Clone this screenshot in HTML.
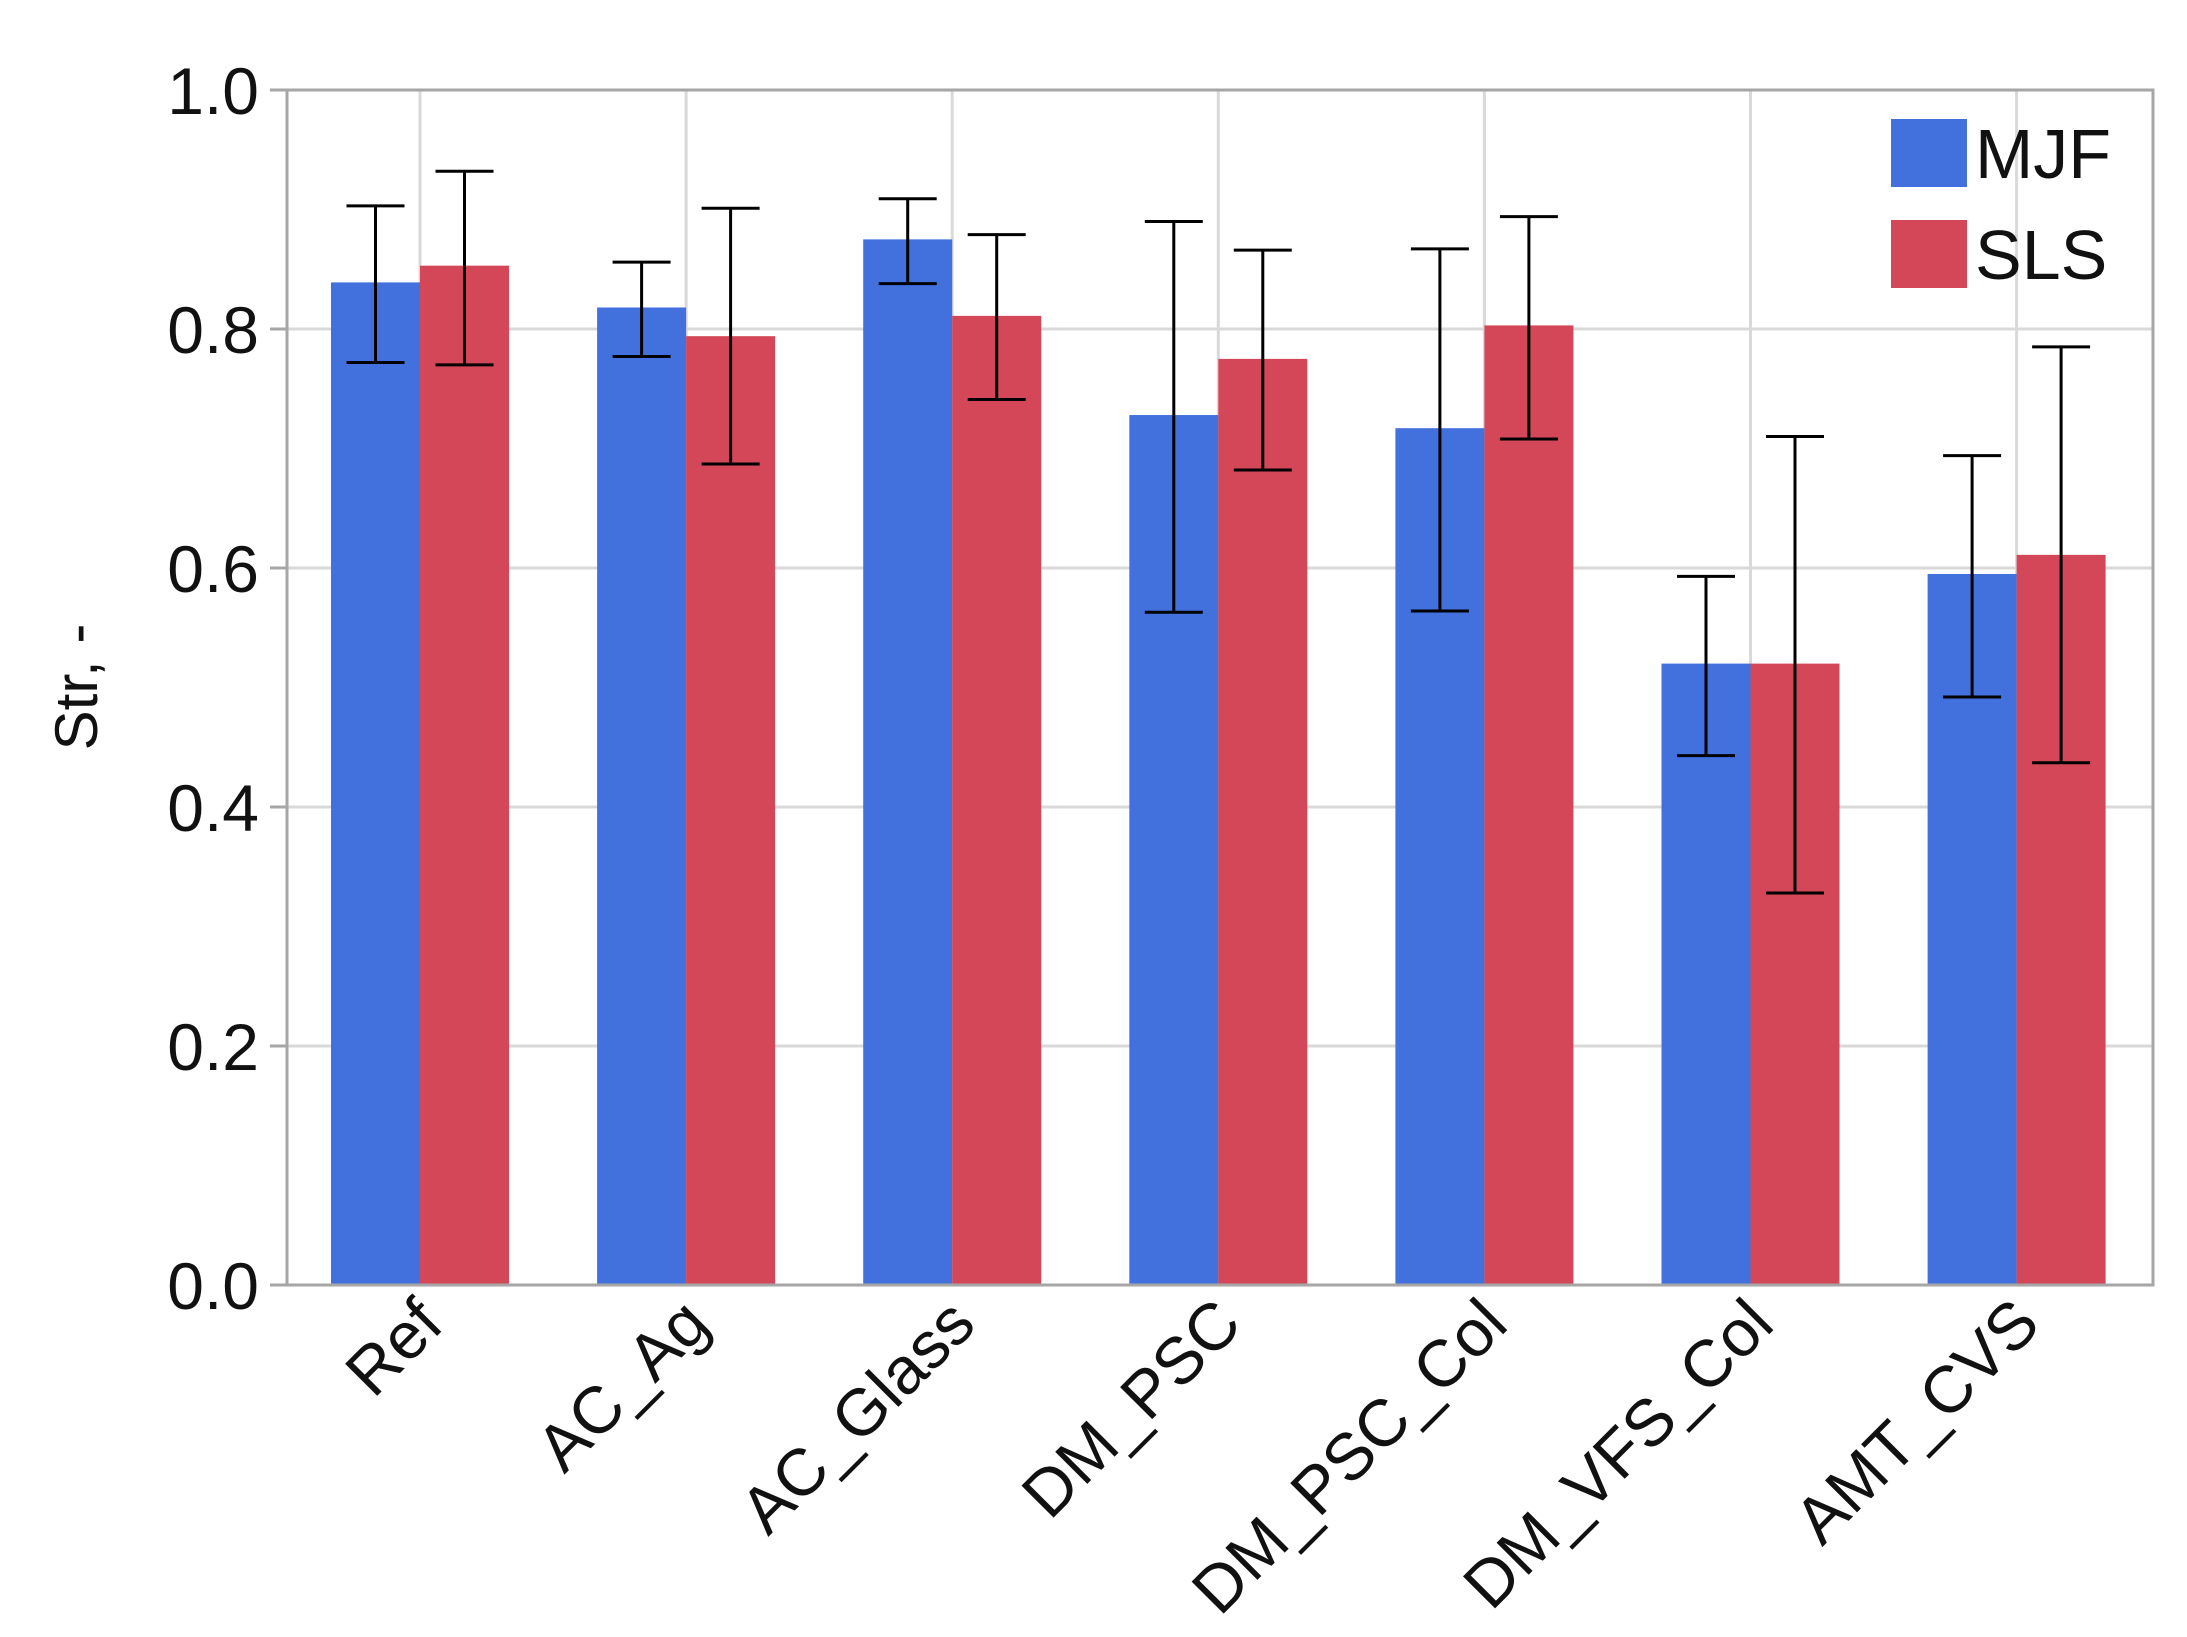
<!DOCTYPE html>
<html><head><meta charset="utf-8"><style>
html,body{margin:0;padding:0;background:#fff;}
svg{display:block;font-family:"Liberation Sans","DejaVu Sans",sans-serif;}
</style></head><body>
<svg id="chart" width="2187" height="1637" viewBox="0 0 2187 1637" xmlns="http://www.w3.org/2000/svg"></svg>
<script>
const categories=["Ref","AC_Ag","AC_Glass","DM_PSC","DM_PSC_Col","DM_VFS_Col","AMT_CVS"];
const mjfValues=[0.839,0.818,0.875,0.728,0.717,0.520,0.595];
const mjfHigh=[0.903,0.856,0.909,0.890,0.867,0.593,0.694];
const mjfLow=[0.772,0.777,0.838,0.563,0.564,0.443,0.492];
const slsValues=[0.853,0.794,0.811,0.775,0.803,0.520,0.611];
const slsHigh=[0.932,0.901,0.879,0.866,0.894,0.710,0.785];
const slsLow=[0.770,0.687,0.741,0.682,0.708,0.328,0.437];
const yTicks=[0,0.2,0.4,0.6,0.8,1.0];
const yTickLabels=["0.0","0.2","0.4","0.6","0.8","1.0"];
const seriesNames=["MJF","SLS"];

const NS="http://www.w3.org/2000/svg";
const svg=document.getElementById('chart');
const L=287,R=2153,T=90,B=1285;
const band=266.1;
const firstCenter=420;
const barW=89;
function y(v){return B-(v/1.0)*(B-T);}
function xc(i){return firstCenter+band*i;}
function mk(tag,attrs,parent){const e=document.createElementNS(NS,tag);for(const k in attrs)e.setAttribute(k,attrs[k]);(parent||svg).appendChild(e);return e;}

yTicks.forEach((t,i)=>{
  const g=mk('line',{x1:L,x2:R,y1:y(t),y2:y(t),stroke:'#d9d9d9','stroke-width':3});
  
  
  const tk=mk('line',{x1:L-17,x2:L,y1:y(t),y2:y(t),stroke:'#a6a6a6','stroke-width':3});
  
  
  const lb=mk('text',{x:259,y:y(t)+24,'text-anchor':'end','font-size':66,fill:'#111'});
  lb.textContent=yTickLabels[i];
  
  
});
categories.forEach((c,i)=>{
  const g=mk('line',{x1:xc(i),x2:xc(i),y1:T,y2:B,stroke:'#d9d9d9','stroke-width':3});
  
  
});

function drawSeries(vals,hi,lo,off,color,name){
  vals.forEach((v,i)=>{
    const x0=xc(i)+off;
    const r=mk('rect',{x:x0,y:y(v),width:barW,height:B-y(v),fill:color});
    
    
    const cx=x0+barW/2;
    const eg=mk('g',{stroke:'#000','stroke-width':3});
    
    
    mk('line',{x1:cx,x2:cx,y1:y(hi[i]),y2:y(lo[i])},eg);
    mk('line',{x1:cx-29,x2:cx+29,y1:y(hi[i]),y2:y(hi[i])},eg);
    mk('line',{x1:cx-29,x2:cx+29,y1:y(lo[i]),y2:y(lo[i])},eg);
  });
}
drawSeries(mjfValues,mjfHigh,mjfLow,-barW,'#4271dd','mjf');
drawSeries(slsValues,slsHigh,slsLow,0,'#d44758','sls');

const fr=mk('rect',{x:L,y:T,width:R-L,height:B-T,fill:'none',stroke:'#a6a6a6','stroke-width':3});



categories.forEach((c,i)=>{
  const t=mk('text',{x:0,y:0,'text-anchor':'end','font-size':66,fill:'#111',transform:`translate(${xc(i)+26},${B+42}) rotate(-45)`});
  t.textContent=c;
  
  
});

const yt=mk('text',{x:0,y:0,'text-anchor':'middle','font-size':60,fill:'#111',transform:'translate(97,687) rotate(-90)'});
yt.textContent='Str, -';



const colors=['#4271dd','#d44758'];
seriesNames.forEach((n,i)=>{
  const g=mk('g',{});
  
  
  mk('rect',{x:1891,y:119+i*101,width:76,height:68,fill:colors[i]},g);
  const t=mk('text',{x:1975,y:178+i*101,'font-size':70,fill:'#111'},g);
  t.textContent=n;
});
</script>
</body></html>
